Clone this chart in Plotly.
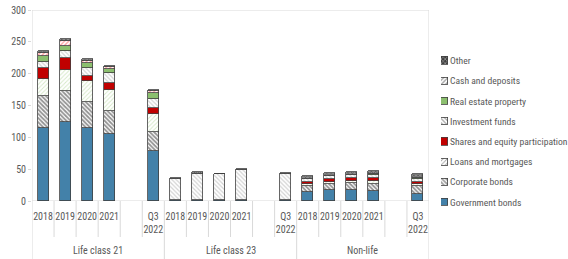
import plotly.graph_objects as go

# ---------------- data ----------------
groups = ["Life class 21", "Life class 23", "Non-life"]
periods = ["2018", "2019", "2020", "2021", "Q3<br>2022"]

series_names = [
    "Government bonds",
    "Corporate bonds",
    "Loans and mortgages",
    "Shares and equity participation",
    "Investment funds",
    "Real estate property",
    "Cash and deposits",
    "Other",
]

# order: Life class 21 (2018..Q3 2022), Life class 23 (...), Non-life (...)
government_bonds = [115, 124, 115, 105, 78, 1, 1, 1, 1, 1, 14, 17, 17, 16, 11.5]
corporate_bonds = [50, 49, 40, 36, 30, 0, 0, 0, 0, 0, 10, 10, 10.5, 11, 12]
loans_mortgages = [26, 32, 33, 33, 28, 0, 0, 0, 0, 0, 3, 3, 3.5, 4, 2.5]
shares_equity = [18, 20, 9, 12, 10, 0, 0, 0, 0, 0, 3.5, 4, 4.5, 5, 4]
investment_funds = [9, 10, 12, 15, 15, 33, 41, 41, 47, 42, 3.5, 5, 5, 5.5, 5]
real_estate = [9, 8, 7, 7, 8, 0, 0, 0, 0, 0, 0.5, 0.5, 0.5, 0.5, 0.5]
cash_deposits = [6, 8, 4, 2, 3, 0, 1, 0, 0, 0, 0.5, 0.5, 0.5, 0.5, 0.5]
other = [2, 3, 3, 2, 2, 2, 3, 1, 3, 1, 4.5, 4, 4.5, 4.5, 6.5]

y_ticks = [0, 50, 100, 150, 200, 250, 300]

series_values = [government_bonds, corporate_bonds, loans_mortgages, shares_equity,
                 investment_funds, real_estate, cash_deposits, other]

# ---------------- styles ----------------
W, H = 568, 259
FONT = "Liberation Sans Narrow, Arial Narrow, Roboto Condensed, Lato, sans-serif"
TXT = "#595959"
GRID = "#d9d9d9"
OUTLINE = "#404040"


def px_y(p):
    return (H - p) / H


styles = {
    "Government bonds": dict(color="#4381a9", shape="", fg="#4381a9", bg="#4381a9", sol=0.3),
    "Corporate bonds": dict(color="#ffffff", shape="\\", fg="#262626", bg="#ffffff", sol=0.6),
    "Loans and mortgages": dict(color="#ffffff", shape="/", fg="#a9d18e", bg="#ffffff", sol=0.3),
    "Shares and equity participation": dict(color="#c00000", shape="", fg="#c00000", bg="#c00000", sol=0.3),
    "Investment funds": dict(color="#ffffff", shape="\\", fg="#a6a6a6", bg="#ffffff", sol=0.4),
    "Real estate property": dict(color="#8cbf6f", shape="", fg="#8cbf6f", bg="#8cbf6f", sol=0.3),
    "Cash and deposits": dict(color="#ffffff", shape="/", fg="#ff4040", bg="#ffffff", sol=0.45),
    "Other": dict(color="#404040", shape="x", fg="#1a1a1a", bg="#8a8a8a", sol=0.4),
}

# slot positions: 5 periods per group with an empty slot before Q3 2022
slot_pos = []
for g in range(len(groups)):
    for i in range(len(periods)):
        slot_pos.append(g * 6 + (i if i < 4 else 5))
tick_text = periods * len(groups)

fig = go.Figure()

for name, vals in zip(series_names, series_values):
    s = styles[name]
    fig.add_trace(go.Bar(
        x=slot_pos, y=vals, name=name, width=0.5,
        marker=dict(color=s["color"], line=dict(color=OUTLINE, width=0.8),
                    pattern=dict(shape=s["shape"], fgcolor=s["fg"], bgcolor=s["bg"],
                                 size=3, solidity=s["sol"])),
        showlegend=False, hoverinfo="skip",
    ))

# manual legend (icons as a tiny bar chart, labels as right-side tick labels)
fig.add_trace(go.Bar(
    y=series_names, x=[1] * len(series_names), orientation="h",
    xaxis="x2", yaxis="y2", width=0.36, showlegend=False, hoverinfo="skip",
    marker=dict(
        color=[styles[n]["color"] for n in series_names],
        line=dict(color=OUTLINE, width=0.8),
        pattern=dict(shape=[styles[n]["shape"] for n in series_names],
                     fgcolor=[styles[n]["fg"] for n in series_names],
                     bgcolor=[styles[n]["bg"] for n in series_names],
                     size=3, solidity=[styles[n]["sol"] for n in series_names]),
    ),
))

shapes = []
# plot frame
shapes.append(dict(type="rect", xref="x", yref="y", x0=-0.5, x1=17.5, y0=0, y1=300,
                   line=dict(color=GRID, width=1), layer="below"))
# category dividers
for k in range(19):
    xb = k - 0.5
    y0 = 0 if k % 6 == 0 else px_y(237)
    shapes.append(dict(type="line", xref="x", yref="paper", x0=xb, x1=xb,
                       y0=y0, y1=px_y(201), line=dict(color=GRID, width=1)))

annotations = []
for g, gname in enumerate(groups):
    annotations.append(dict(x=g * 6 + 2.5, y=px_y(250), xref="x", yref="paper",
                            text=gname, showarrow=False, yanchor="middle",
                            font=dict(family=FONT, size=10, color=TXT)))

fig.update_layout(
    width=W, height=H, autosize=False,
    margin=dict(l=0, r=0, t=0, b=0),
    paper_bgcolor="white", plot_bgcolor="white",
    barmode="stack", bargap=0,
    font=dict(family=FONT, size=10, color=TXT),
    shapes=shapes, annotations=annotations,
    xaxis=dict(domain=[32 / W, 429 / W], range=[-0.5, 17.5], tickvals=slot_pos,
               ticktext=tick_text, showgrid=False, zeroline=False, showline=False,
               ticks="", tickfont=dict(family=FONT, size=10, color=TXT), automargin=False,
               tickangle=0, ticklabelstandoff=8),
    yaxis=dict(domain=[px_y(201), px_y(10)], range=[0, 300], tickvals=y_ticks,
               showgrid=False, zeroline=False, showline=False, ticks="outside",
               ticklen=3, tickcolor=GRID, tickfont=dict(family=FONT, size=10, color=TXT),
               automargin=False),
    xaxis2=dict(domain=[441 / W, 448 / W], range=[0, 1], visible=False, anchor="y2"),
    yaxis2=dict(domain=[px_y(212.4), px_y(50.6)], anchor="x2", side="right",
                categoryorder="array", categoryarray=series_names, range=[-0.5, 7.5],
                showgrid=False, zeroline=False, showline=False, ticks="",
                tickfont=dict(family=FONT, size=9.6, color=TXT), automargin=False,
                ticklabelstandoff=1),
)

fig.write_html(
    "out.html",
    config={"displayModeBar": False},
    post_script="document.body.style.margin='0';document.body.style.overflow='hidden';",
)
